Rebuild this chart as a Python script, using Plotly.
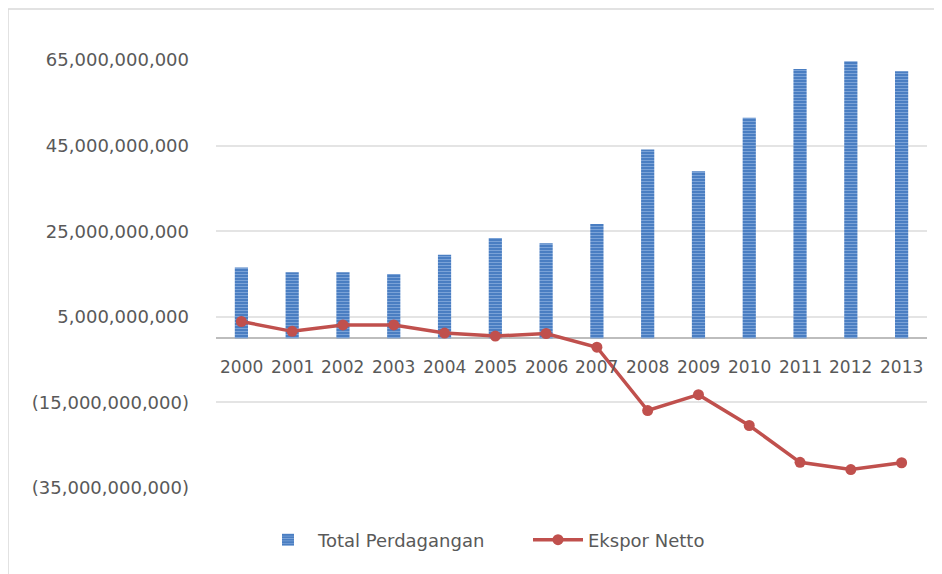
import plotly.graph_objects as go

# data
years = ["2000", "2001", "2002", "2003", "2004", "2005", "2006",
         "2007", "2008", "2009", "2010", "2011", "2012", "2013"]
total_perdagangan = [16.5e9, 15.4e9, 15.4e9, 15.0e9, 19.5e9, 23.4e9, 22.2e9,
                     26.7e9, 44.1e9, 39.0e9, 51.5e9, 62.9e9, 64.7e9, 62.4e9]
ekspor_netto = [3.9e9, 1.6e9, 3.1e9, 3.1e9, 1.2e9, 0.5e9, 1.1e9,
                -2.1e9, -16.9e9, -13.2e9, -20.4e9, -29.0e9, -30.7e9, -29.1e9]
y_tickvals = [65e9, 45e9, 25e9, 5e9, -15e9, -35e9]
y_ticktext = ["65,000,000,000", "45,000,000,000", "25,000,000,000",
              "5,000,000,000", "(15,000,000,000)", "(35,000,000,000)"]

FONT = "DejaVu Sans"
GREY = "#595959"

# the page body adds an 8px margin, so the figure starts at (8, 8) on screen
OFF = 8
W, H = 942 - OFF, 574 - OFF
# plot area in screen pixels (matches the reference gridline extents)
X0, X1, Y0, Y1 = 216, 927, 60, 488
PW, PH = X1 - X0, Y1 - Y0

px = lambda v: (v - X0) / PW
py = lambda v: (Y1 - v) / PH

fig = go.Figure()

fig.add_trace(go.Bar(
    x=years, y=total_perdagangan, name="Total Perdagangan",
    width=0.26,
    marker=dict(
        color="#4a7ec2",
        line=dict(width=0),
        pattern=dict(shape="-", fgcolor="#a9c6ec", size=3, solidity=0.35),
    ),
))

fig.add_trace(go.Scatter(
    x=years, y=ekspor_netto, name="Ekspor Netto",
    mode="lines+markers",
    line=dict(color="#c0504d", width=3.5),
    marker=dict(color="#c0504d", size=11),
))

# year labels sit just under the zero line, like the Excel original
year_labels = [
    dict(x=i, y=0, xref="x", yref="y", text=yr, showarrow=False,
         yshift=-29, font=dict(family=FONT, size=17, color=GREY))
    for i, yr in enumerate(years)
]

fig.update_layout(
    width=W, height=H,
    margin=dict(l=X0 - OFF, r=942 - X1, t=Y0 - OFF, b=574 - Y1, autoexpand=False),
    plot_bgcolor="white", paper_bgcolor="white",
    font=dict(family=FONT, size=18, color=GREY),
    showlegend=True,
    legend=dict(orientation="h", x=px(258), xanchor="left",
                y=py(540), yanchor="middle", font=dict(size=18, color=GREY),
                entrywidth=205, itemwidth=50, bgcolor="rgba(0,0,0,0)"),
    xaxis=dict(type="category", range=[-0.5, 13.5], showticklabels=False,
               showgrid=False, showline=False, zeroline=False, ticks=""),
    yaxis=dict(range=[-35e9, 65e9], tickvals=y_tickvals, ticktext=y_ticktext,
               showgrid=True, gridcolor="#e4e4e4", gridwidth=1.5,
               zeroline=True, zerolinecolor="#bdbdbd", zerolinewidth=2,
               showline=False, ticks="", ticklabelstandoff=26,
               tickfont=dict(size=18, color=GREY)),
    annotations=year_labels,
    shapes=[
        # light chart frame at the left and top, as in the screenshot
        dict(type="line", xref="paper", yref="paper",
             x0=px(8), x1=px(8), y0=py(574), y1=py(9),
             line=dict(color="#d9d9d9", width=1.5)),
        dict(type="line", xref="paper", yref="paper",
             x0=px(8), x1=px(942), y0=py(9), y1=py(9),
             line=dict(color="#d9d9d9", width=1.5)),
    ],
)

fig.write_html("out.html")
